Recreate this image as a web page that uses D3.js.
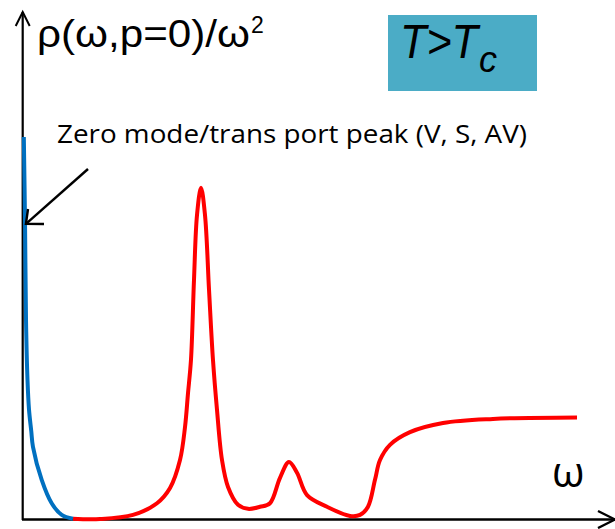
<!DOCTYPE html>
<html>
<head>
<meta charset="utf-8">
<script src="https://cdn.jsdelivr.net/npm/d3@7"></script>
<style>
  html, body { margin: 0; padding: 0; background: #fff; }
  svg { display: block; }
</style>
</head>
<body>
<div id="chart"></div>
<script>
// ---- data (arbitrary units) ----
const omegaZero = [0.014, 0.034, 0.051, 0.076, 0.102, 0.140, 0.169, 0.317, 0.486, 0.656, 0.847];
const rhoZero   = [7.54, 5.91, 3.94, 2.76, 2.17, 1.75, 1.44, 0.79, 0.33, 0.10, 0.026];

const omegaRes = [0.847, 1.305, 1.864, 2.271, 2.492, 2.661, 2.746, 2.797, 2.847, 2.898, 2.949, 3.017,
                  3.085, 3.153, 3.220, 3.288, 3.373, 3.475, 3.644, 3.814, 4.017, 4.186, 4.356, 4.508,
                  4.644, 4.814, 5.153, 5.542, 5.712, 5.847, 5.966, 6.051, 6.220, 6.559, 7.119, 7.966, 9.390];
const rhoRes   = [0.026, 0.02, 0.10, 0.33, 0.63, 1.18, 1.83, 2.50, 3.15, 4.72, 6.00, 6.54,
                  6.00, 4.53, 3.15, 2.17, 1.18, 0.65, 0.30, 0.22, 0.26, 0.33, 0.83, 1.14,
                  0.93, 0.49, 0.26, 0.08, 0.10, 0.26, 0.79, 1.18, 1.48, 1.73, 1.91, 1.99, 2.02];

const yLabelMain = "ρ(ω,p=0)/ω";
const yLabelSup = "2";
const xLabel = "ω";
const annotation = "Zero mode/trans port peak (V, S, AV)";
const annotationTarget = [0.05, 5.83];   // point on the zero-mode peak the arrow points at

const W = 615, H = 529;
const svg = d3.select("#chart").append("svg").attr("width", W).attr("height", H);

const x = d3.scaleLinear().domain([0, 10]).range([23, 613]);
const y = d3.scaleLinear().domain([0, 10]).range([520, 12]);

// axes
svg.append("line").attr("x1", x(0) - 0.3).attr("y1", y(0)).attr("x2", x(0) - 0.3).attr("y2", 12)
  .attr("stroke", "#000").attr("stroke-width", 2.2);
svg.append("line").attr("x1", x(0) - 1).attr("y1", y(0) - 0.5).attr("x2", 615).attr("y2", y(0) - 0.5)
  .attr("stroke", "#000").attr("stroke-width", 2.6);
// arrow heads
svg.append("path").attr("d", `M${x(0) - 7.3},26 L${x(0) - 0.3},12 L${x(0) + 6.7},26`)
  .attr("fill", "none").attr("stroke", "#000").attr("stroke-width", 2);
svg.append("path").attr("d", `M598,${y(0) - 9} L615,${y(0) - 0.5} L598,${y(0) + 8}`)
  .attr("fill", "none").attr("stroke", "#000").attr("stroke-width", 2.4);

const line = d3.line().x(d => x(d[0])).y(d => y(d[1])).curve(d3.curveCatmullRom.alpha(0.5));

svg.append("path").datum(omegaRes.map((o, i) => [o, rhoRes[i]]))
  .attr("d", line).attr("fill", "none").attr("stroke", "#FF0000").attr("stroke-width", 4)
  .attr("stroke-linejoin", "round");
svg.append("path").datum(omegaZero.map((o, i) => [o, rhoZero[i]]))
  .attr("d", line).attr("fill", "none").attr("stroke", "#0070C0").attr("stroke-width", 4)
  .attr("stroke-linejoin", "round");

// y label
const yl = svg.append("text").attr("x", 37).attr("y", 47)
  .attr("font-family", "'Liberation Sans', Arial, sans-serif").attr("fill", "#000");
yl.append("tspan").attr("font-size", 38).text(yLabelMain)
  .attr("textLength", 213).attr("lengthAdjust", "spacingAndGlyphs");
yl.append("tspan").attr("font-size", 23).attr("dy", -14).attr("dx", 1).text(yLabelSup);

// T > Tc box
svg.append("rect").attr("x", 388).attr("y", 15).attr("width", 149).attr("height", 76).attr("fill", "#4BACC6");
const tt = svg.append("text")
  .attr("font-family", "'Liberation Sans', Arial, sans-serif").attr("font-style", "italic").attr("fill", "#000");
tt.append("tspan").attr("x", 400).attr("y", 58).attr("font-size", 49).text("T>T")
  .attr("textLength", 78).attr("lengthAdjust", "spacingAndGlyphs");
tt.append("tspan").attr("x", 479).attr("y", 72).attr("font-size", 36).text("c");

// annotation
svg.append("text").attr("x", 57).attr("y", 143)
  .attr("font-family", "'Open Sans', sans-serif").attr("font-size", 25).attr("fill", "#000")
  .attr("textLength", 470).attr("lengthAdjust", "spacingAndGlyphs").text(annotation);
const ax = x(annotationTarget[0]), ay = y(annotationTarget[1]);
svg.append("line").attr("x1", 88).attr("y1", 169).attr("x2", ax).attr("y2", ay)
  .attr("stroke", "#000").attr("stroke-width", 2.4);
svg.append("path").attr("d", `M28,209 L${ax},${ay} L44,224`)
  .attr("fill", "none").attr("stroke", "#000").attr("stroke-width", 2.4);

// x label
svg.append("text").attr("x", 552).attr("y", 487)
  .attr("font-family", "'Open Sans', sans-serif").attr("font-size", 42).attr("fill", "#000").text(xLabel);
</script>
</body>
</html>
